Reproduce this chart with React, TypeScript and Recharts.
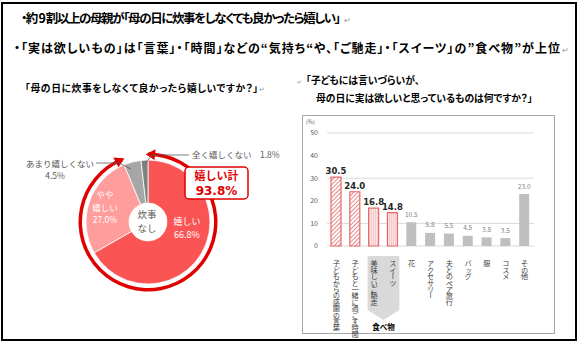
import React from 'react';
import { PieChart, Pie, Cell, BarChart, Bar, XAxis, YAxis, CartesianGrid, LabelList } from 'recharts';

const pieCategories = ['嬉しい', 'やや嬉しい', 'あまり嬉しくない', '全く嬉しくない'];
const pieValues = [66.8, 27.0, 4.5, 1.8];
const ringCategories = ['嬉しい計', 'その他'];
const ringValues = [93.8, 6.2];

const barCategories = [
  '子どもからの感謝の言葉',
  '子どもと一緒に過ごす時間',
  '美味しいご馳走',
  'スイーツ',
  '花',
  'アクセサリー',
  '夫とのペア旅行',
  'バッグ',
  '服',
  'コスメ',
  'その他',
];
const barValues = [30.5, 24.0, 16.8, 14.8, 10.5, 5.8, 5.5, 4.5, 3.8, 3.5, 23.0];
const yTicks = [0, 10, 20, 30, 40, 50];

const pieData = pieCategories.map((name, i) => ({ name, value: pieValues[i] }));
const ringData = ringCategories.map((name, i) => ({ name, value: ringValues[i] }));
const barData = barCategories.map((name, i) => ({ name, value: barValues[i] }));

const FONT = '"Noto Sans CJK JP", "Noto Sans", sans-serif';
const NUMFONT = '"DejaVu Sans", Verdana, sans-serif';
const PIE_COLORS = ['#FA5454', '#FF9C9C', '#A6A6A6', '#7F7F7F'];
const RED = '#E00000';
const PALT = { fontFeatureSettings: '"palt"' } as any;

const BAR_W = 251;
const BAR_H = 228;
const PLOT_LEFT = 24;
const PLOT_RIGHT = 20;
const BAND = (BAR_W - PLOT_LEFT - PLOT_RIGHT) / barCategories.length;

const RAD = Math.PI / 180;

function RingArrows(props: any) {
  const { cx, cy, innerRadius, outerRadius, index } = props;
  if (index !== 0) return null;
  const startAngle = props.startAngle ?? 90;
  const endAngle = props.endAngle ?? 90 - (360 * ringValues[0]) / 100;
  const r = (innerRadius + outerRadius) / 2;
  const pt = (a: number, rr: number) => [cx + rr * Math.cos(a * RAD), cy - rr * Math.sin(a * RAD)];
  const head = (a: number, dir: number) => {
    const tip = pt(a + dir * 2, r);
    const b1 = pt(a - dir * 6, r + 5.5);
    const b2 = pt(a - dir * 6, r - 5.5);
    return (
      <polygon
        points={`${tip[0]},${tip[1]} ${b1[0]},${b1[1]} ${b2[0]},${b2[1]}`}
        fill={RED}
      />
    );
  };
  return (
    <g>
      {head(startAngle, 1)}
      {head(endAngle, -1)}
    </g>
  );
}

function VTick(props: any) {
  const { x, y, payload } = props;
  const i = payload && payload.index != null ? payload.index : barCategories.indexOf(payload.value);
  const food = i === 2;
  return (
    <g>
      {food && (
        <g>
          <path
            d={`M${x - 6.5},${y + 2} L${x + BAND + 6.5},${y + 2} L${x + BAND + 6.5},${y + 56} L${x + BAND / 2},${y + 66} L${x - 6.5},${y + 56} Z`}
            fill="#D9D9D9"
          />
          <text
            x={x + BAND / 2}
            y={y + 75.5}
            textAnchor="middle"
            fontSize={7.5}
            fontWeight={700}
            fontFamily={FONT}
            fill="#000"
          >
            食べ物
          </text>
        </g>
      )}
      <text
        x={x}
        y={y + 6}
        fontSize={7.2}
        fontFamily={FONT}
        fill="#404040"
        style={{ writingMode: 'vertical-rl' as any, letterSpacing: '-0.8px' }}
      >
        {payload.value}
      </text>
    </g>
  );
}

function BarLabel(props: any) {
  const { x, y, width, value, index } = props;
  const bold = index < 4;
  return (
    <text
      x={x + width / 2}
      y={bold ? y - 3 : y - 5.5}
      textAnchor="middle"
      fontSize={bold ? 8.5 : 6.5}
      fontWeight={bold ? 700 : 400}
      fontFamily={bold ? NUMFONT : FONT}
      fill={bold ? '#262626' : '#7F7F7F'}
    >
      {Number(value).toFixed(1)}
    </text>
  );
}

function barFill(i: number) {
  if (i < 2) return 'url(#hatch)';
  if (i < 4) return 'url(#pinkStripe)';
  return '#BFBFBF';
}
function barStroke(i: number) {
  if (i < 4) return '#E46A6A';
  return 'none';
}

export default function App() {
  return (
    <div
      style={{
        position: 'absolute',
        left: 0,
        top: 0,
        width: 579,
        height: 345,
        background: '#fff',
        overflow: 'hidden',
        fontFamily: FONT,
      }}
    >
      <div
        style={{
          position: 'absolute',
          left: 1,
          top: 2,
          width: 576,
          height: 339,
          border: '2px solid #000',
          boxSizing: 'border-box',
        }}
      />
      <div
        style={{
          position: 'absolute',
          left: 302,
          top: 115,
          width: 253,
          height: 219,
          border: '1px solid #A6A6A6',
          boxSizing: 'border-box',
        }}
      />
      <div style={{ position: 'absolute', left: 0, top: 60 }}>
        <PieChart width={290} height={280} margin={{ top: 0, right: 0, bottom: 0, left: 0 }}>
          <Pie
            data={ringData}
            dataKey="value"
            nameKey="name"
            cx={148}
            cy={162}
            innerRadius={66}
            outerRadius={69.5}
            startAngle={90}
            endAngle={-270}
            stroke="none"
            isAnimationActive={false}
            label={RingArrows}
            labelLine={false}
          >
            {ringData.map((d, i) => (
              <Cell key={i} fill={i === 0 ? RED : 'none'} />
            ))}
          </Pie>
          <Pie
            data={pieData}
            dataKey="value"
            nameKey="name"
            cx={148}
            cy={162}
            innerRadius={19}
            outerRadius={62}
            startAngle={90}
            endAngle={-270}
            stroke="#fff"
            strokeWidth={0.8}
            isAnimationActive={false}
          >
            {pieData.map((d, i) => (
              <Cell key={i} fill={PIE_COLORS[i]} />
            ))}
          </Pie>
        </PieChart>
      </div>
      <div style={{ position: 'absolute', left: 303, top: 115 }}>
        <BarChart
          width={BAR_W}
          height={BAR_H}
          data={barData}
          margin={{ top: 18, right: PLOT_RIGHT, bottom: 10, left: 0 }}
          barCategoryGap={0}
        >
          <defs>
            <pattern id="hatch" patternUnits="userSpaceOnUse" width={3} height={3} patternTransform="rotate(45)">
              <rect width={3} height={3} fill="#fff" />
              <line x1={0} y1={0} x2={0} y2={3} stroke="#E46A6A" strokeWidth={1.6} />
            </pattern>
            <pattern id="pinkStripe" patternUnits="userSpaceOnUse" width={2} height={2}>
              <rect width={2} height={2} fill="#FBE3E3" />
              <line x1={0.5} y1={0} x2={0.5} y2={2} stroke="#F6C4C4" strokeWidth={0.8} />
            </pattern>
          </defs>
          <CartesianGrid vertical={false} stroke="#D9D9D9" strokeWidth={1} />
          <XAxis
            dataKey="name"
            interval={0}
            tickLine={false}
            axisLine={false}
            height={87}
            tick={VTick}
          />
          <YAxis
            domain={[0, 50]}
            ticks={yTicks}
            width={PLOT_LEFT}
            axisLine={false}
            tickLine={false}
            tickSize={0}
            tickMargin={9}
            tick={{ fontSize: 7, fill: '#595959', fontFamily: FONT }}
          />
          <Bar dataKey="value" barSize={10} isAnimationActive={false}>
            {barData.map((d, i) => (
              <Cell key={i} fill={barFill(i)} stroke={barStroke(i)} strokeWidth={1.2} />
            ))}
            <LabelList dataKey="value" content={BarLabel} />
          </Bar>
        </BarChart>
      </div>
      <svg
        width={579}
        height={345}
        style={{ position: 'absolute', left: 0, top: 0, pointerEvents: 'none' }}
        fontFamily={FONT}
      >
        <text x={21} y={23} fontSize={12.5} fontWeight={700} fill="#000" textLength={320} style={PALT}>
          {'・約\u00A09\u00A0割以上の母親が「母の日に炊事をしなくても良かったら嬉しい」'}
        </text>
        <text x={344} y={23} fontSize={8} fill="#999">↵</text>
        <text x={14} y={53} fontSize={12} fontWeight={700} fill="#000" textLength={546} style={PALT}>
          ・「実は欲しいもの」は「言葉」・「時間」などの“気持ち“や、「ご馳走」・「スイーツ」の”食べ物”が上位
        </text>
        <text x={562} y={53} fontSize={8} fill="#999">↵</text>

        <text x={25} y={92} fontSize={9.8} fontWeight={700} fill="#000" textLength={233} style={PALT}>
          「母の日に炊事をしなくて良かったら嬉しいですか？」
        </text>
        <text x={259} y={92} fontSize={7} fill="#999">↵</text>

        <text x={297} y={84} fontSize={6} fill="#999">↵</text>
        <text x={306} y={84} fontSize={9.8} fontWeight={700} fill="#000" style={PALT}>
          「子どもには言いづらいが、
        </text>
        <text x={316} y={101.5} fontSize={9.8} fontWeight={700} fill="#000" style={PALT}>
          母の日に実は欲しいと思っているものは何ですか？」
        </text>

        <text x={306} y={124} fontSize={5.5} fill="#595959">(%)</text>

        <polyline points="146,163 152,155 189,155" fill="none" stroke="#595959" strokeWidth={0.8} />
        <text x={192} y={158} fontSize={8.5} fill="#595959">全く嬉しくない　1.8%</text>
        <polyline points="96,163 119,163 131,169" fill="none" stroke="#595959" strokeWidth={0.8} />
        <text x={60} y={167} fontSize={8.5} fill="#595959" textAnchor="middle">あまり嬉しくない</text>
        <text x={55} y={178.5} fontSize={8.5} fill="#595959" textAnchor="middle">4.5%</text>

        <rect x={185} y={167} width={63} height={32} rx={4} fill="#fff" stroke={RED} strokeWidth={1.5} />
        <text x={216.5} y={180} fontSize={11} fontWeight={700} fill={RED} textAnchor="middle">嬉しい計</text>
        <text x={216.5} y={194.5} fontSize={12} fontWeight={700} fill={RED} textAnchor="middle" fontFamily={NUMFONT}>93.8%</text>

        <text x={187} y={225} fontSize={9} fill="#fff" textAnchor="middle">嬉しい</text>
        <text x={187} y={238} fontSize={9} fill="#fff" textAnchor="middle">66.8%</text>
        <text x={105} y={198} fontSize={8.5} fill="#fff" textAnchor="middle">やや</text>
        <text x={105} y={210.5} fontSize={8.5} fill="#fff" textAnchor="middle">嬉しい</text>
        <text x={105} y={223} fontSize={8.5} fill="#fff" textAnchor="middle">27.0%</text>
        <text x={147} y={218} fontSize={9.5} fill="#595959" textAnchor="middle">炊事</text>
        <text x={147} y={232} fontSize={9.5} fill="#595959" textAnchor="middle">なし</text>
      </svg>
    </div>
  );
}
